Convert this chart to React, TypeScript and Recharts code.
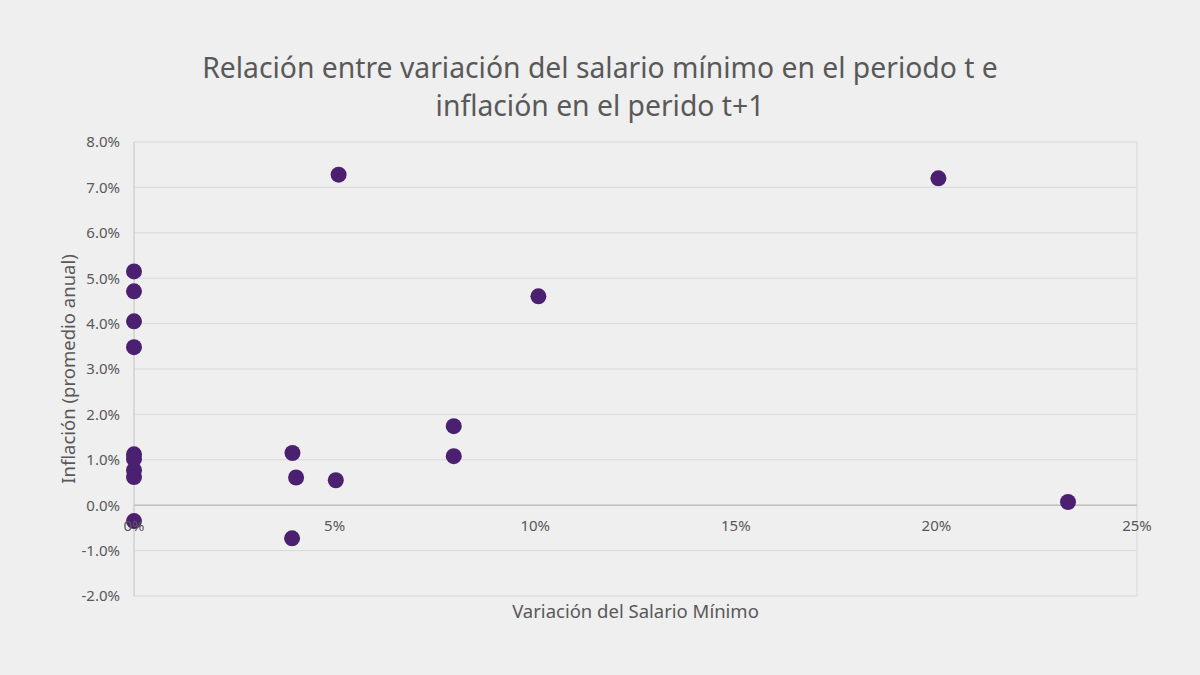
import { ScatterChart, Scatter, XAxis, YAxis, CartesianGrid, ReferenceLine, ReferenceDot } from 'recharts';

// variacion del salario minimo (%), inflacion t+1 (%)
const salario = [0, 0, 0, 0, 0, 0, 0, 0, 0, 5.1, 20.05, 10.08, 7.97, 7.97, 3.95, 4.04, 5.03, 3.94, 23.28];
const inflacion = [5.15, 4.71, 4.05, 3.48, 1.12, 1.02, 0.77, 0.62, -0.35, 7.28, 7.2, 4.6, 1.74, 1.08, 1.15, 0.61, 0.55, -0.73, 0.07];

const xTicks = [0, 5, 10, 15, 20, 25];
const yTicks = [-2, -1, 0, 1, 2, 3, 4, 5, 6, 7, 8];

const titleLines = ['Relación entre variación del salario mínimo en el periodo t e', 'inflación en el perido t+1'];

const data = salario.map((s, i) => ({ x: s, y: inflacion[i] }));

const FONT = '"Noto Sans", "Open Sans", sans-serif';
const TEXT = '#595959';
const GRID = '#d9d9d9';
const DOT = '#4b2070';

const Dot = (props: any) => <circle cx={props.cx} cy={props.cy} r={8} fill={DOT} />;

export default function App() {
  return (
    <div style={{ position: 'absolute', left: 0, top: 0, width: 1200, height: 675, background: '#efefef', fontFamily: FONT }}>
      <div style={{ position: 'absolute', top: 48, left: 0, width: 1200, textAlign: 'center', color: TEXT, fontSize: 28.3, lineHeight: '38px' }}>
        {titleLines.map(l => <div key={l}>{l}</div>)}
      </div>
      <div style={{ position: 'absolute', left: 0, top: 0 }}>
        <ScatterChart width={1200} height={675} margin={{ top: 142, right: 63, bottom: 49, left: 64 }}>
          <CartesianGrid stroke={GRID} strokeWidth={1} />
          <XAxis type="number" dataKey="x" domain={[0, 25]} ticks={xTicks} tick={false} axisLine={false} tickLine={false} height={30}
            label={{ value: 'Variación del Salario Mínimo', position: 'insideTop', offset: 9, fill: TEXT, fontSize: 18.5, fontFamily: FONT }} />
          <YAxis type="number" dataKey="y" domain={[-2, 8]} ticks={yTicks} width={70} axisLine={false} tickLine={false}
            tickSize={6} tickMargin={8} tickFormatter={(v: number) => `${v.toFixed(1)}%`}
            tick={{ fill: TEXT, fontSize: 15, fontFamily: FONT }}
            label={{ value: 'Inflación (promedio anual)', angle: -90, position: 'insideLeft', offset: 4, fill: TEXT, fontSize: 18.5, fontFamily: FONT, style: { textAnchor: 'middle' } }} />
          <ReferenceLine y={0} stroke="#bfbfbf" strokeWidth={1.5} />
          <ReferenceLine x={0} stroke="#cccccc" strokeWidth={1} />
          {xTicks.map(t => (
            <ReferenceDot key={t} x={t} y={0} r={0} fill="none" stroke="none"
              label={{ value: `${t}%`, position: 'bottom', offset: 15, fill: TEXT, fontSize: 15, fontFamily: FONT }} />
          ))}
          <Scatter data={data} shape={Dot} isAnimationActive={false} />
        </ScatterChart>
      </div>
    </div>
  );
}
